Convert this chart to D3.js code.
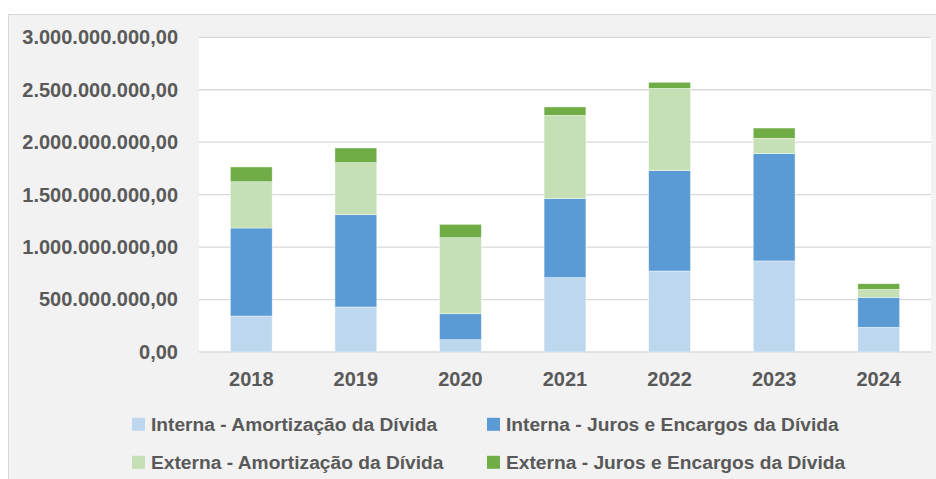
<!DOCTYPE html>
<html lang="pt">
<head>
<meta charset="UTF-8">
<title>Serviço da Dívida</title>
<script src="https://d3js.org/d3.v7.min.js"></script>
<style>
    body { margin: 0; background: #ffffff; }
    svg text { font-family: "Liberation Sans", Arial, sans-serif; fill: #595959; }
    .axis text { font-weight: bold; font-size: 20px; }
    .legend text { font-weight: bold; font-size: 19.2px; }
</style>
</head>
<body>
<div id="chart"></div>
<script>
    const years = ["2018", "2019", "2020", "2021", "2022", "2023", "2024"];
    const seriesNames = [
        "Interna - Amortização da Dívida",
        "Interna - Juros e Encargos da Dívida",
        "Externa - Amortização da Dívida",
        "Externa - Juros e Encargos da Dívida"
    ];
    const internaAmortizacao = [343e6, 429e6, 117e6, 709e6, 772e6, 868e6, 235e6];
    const internaJuros       = [839e6, 880e6, 248e6, 753e6, 957e6, 1023e6, 286e6];
    const externaAmortizacao = [441e6, 496e6, 725e6, 794e6, 784e6, 146e6, 76e6];
    const externaJuros       = [141e6, 140e6, 127e6, 80e6, 58e6, 98e6, 54e6];
    const yTicks = [0, 5e8, 1e9, 1.5e9, 2e9, 2.5e9, 3e9];
    const colors = ["#bdd7ee", "#5b9bd5", "#c5e0b4", "#70ad47"];

    const W = 936, H = 479;
    const plot = { left: 199, right: 931, top: 37.3, bottom: 352 };

    // table for the stack
    const keys = ["ia", "ij", "ea", "ej"];
    const table = years.map((y, i) => ({
        year: y,
        ia: internaAmortizacao[i],
        ij: internaJuros[i],
        ea: externaAmortizacao[i],
        ej: externaJuros[i]
    }));
    const stacked = d3.stack().keys(keys)(table);

    const ptBR = d3.formatLocale({ decimal: ",", thousands: ".", grouping: [3], currency: ["R$", ""] });
    const fmt = ptBR.format(",.2f");

    const svg = d3.select("#chart").append("svg")
        .attr("width", W)
        .attr("height", H);

    // chart frame
    svg.append("rect")
        .attr("x", 8.5).attr("y", 14.5)
        .attr("width", W).attr("height", H)
        .attr("fill", "#f2f2f2")
        .attr("stroke", "#d9d9d9");

    const x = d3.scaleBand()
        .domain(years)
        .range([plot.left, plot.right])
        .paddingInner(0.6)
        .paddingOuter(0.3);

    const y = d3.scaleLinear()
        .domain([0, 3e9])
        .range([plot.bottom, plot.top]);

    // plot area
    svg.append("rect")
        .attr("x", plot.left).attr("y", plot.top)
        .attr("width", plot.right - plot.left)
        .attr("height", plot.bottom - plot.top)
        .attr("fill", "#ffffff");

    // gridlines
    svg.append("g")
        .selectAll("line")
        .data(yTicks)
        .join("line")
        .attr("x1", plot.left).attr("x2", plot.right)
        .attr("y1", d => y(d)).attr("y2", d => y(d))
        .attr("stroke", "#d9d9d9")
        .attr("stroke-width", 1.3);

    // bars
    svg.append("g")
        .selectAll("g")
        .data(stacked)
        .join("g")
        .attr("fill", (d, i) => colors[i])
        .selectAll("rect")
        .data(d => d)
        .join("rect")
        .attr("x", d => x(d.data.year))
        .attr("width", x.bandwidth())
        .attr("y", d => y(d[1]))
        .attr("height", d => y(d[0]) - y(d[1]))
        .attr("stroke", "#ffffff")
        .attr("stroke-opacity", 0.6)
        .attr("stroke-width", 0.7);

    // y axis
    const yAxis = svg.append("g")
        .attr("class", "axis")
        .attr("transform", `translate(${plot.left},0)`)
        .call(d3.axisLeft(y).tickValues(yTicks).tickFormat(fmt).tickSize(0).tickPadding(21));
    yAxis.select(".domain").remove();

    // x axis
    const xAxis = svg.append("g")
        .attr("class", "axis")
        .attr("transform", `translate(0,${plot.bottom})`)
        .call(d3.axisBottom(x).tickSize(0).tickPadding(20));
    xAxis.select(".domain").remove();

    // legend
    const legendPos = [[132, 424.3], [487, 424.3], [132, 462.3], [487, 462.3]];
    const legend = svg.append("g").attr("class", "legend")
        .selectAll("g")
        .data(seriesNames)
        .join("g")
        .attr("transform", (d, i) => `translate(${legendPos[i][0]},${legendPos[i][1]})`);
    legend.append("rect")
        .attr("x", 0).attr("y", -6.5)
        .attr("width", 13).attr("height", 13)
        .attr("fill", (d, i) => colors[i]);
    legend.append("text")
        .attr("x", 19)
        .attr("dy", "0.35em")
        .text(d => d);
</script>
</body>
</html>
